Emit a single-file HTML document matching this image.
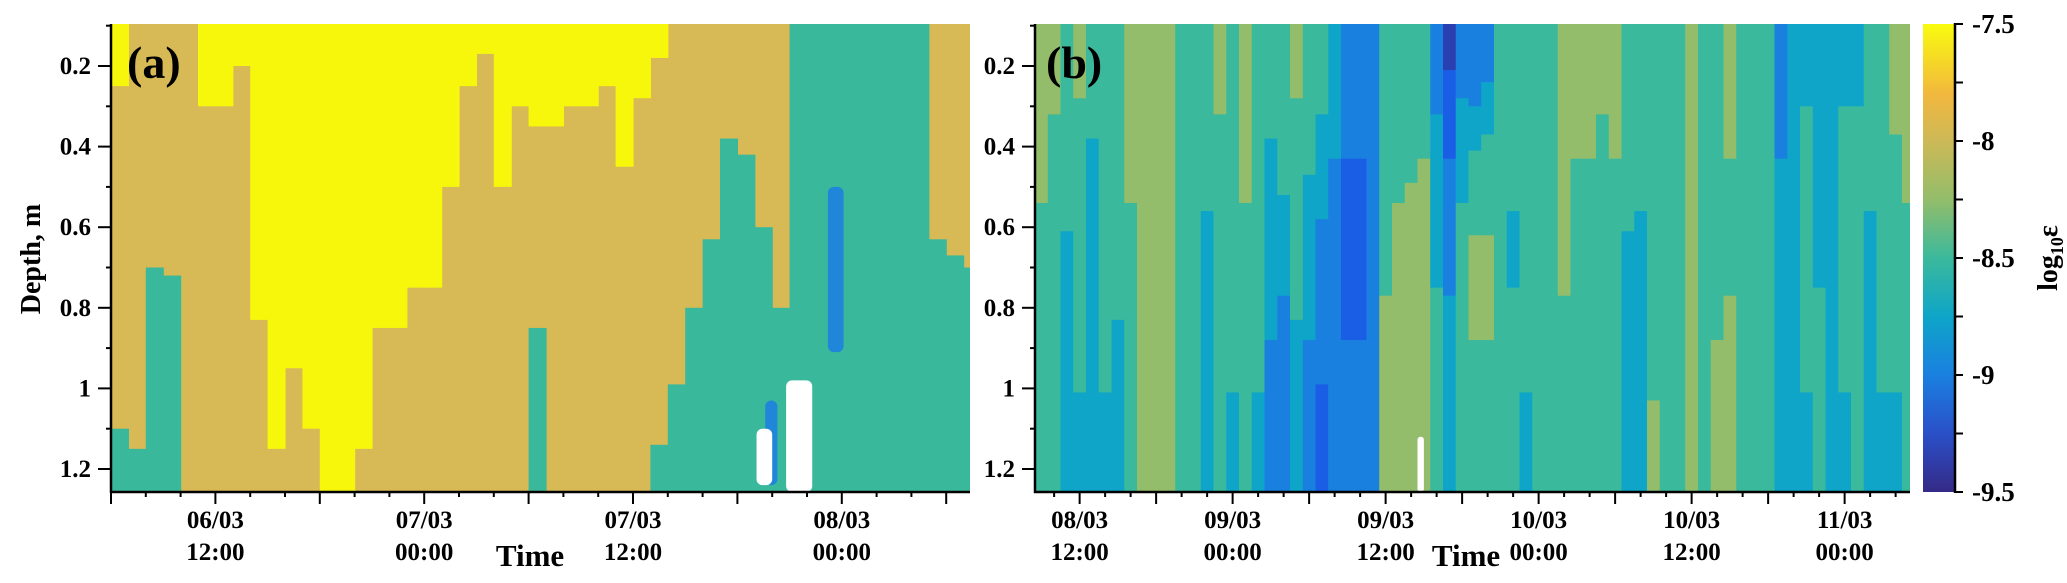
<!DOCTYPE html>
<html><head><meta charset="utf-8"><style>
html,body{margin:0;padding:0;background:#fff;}
svg{display:block;font-family:"Liberation Serif",serif;font-weight:bold;}
</style></head><body>
<svg id="fig" xmlns="http://www.w3.org/2000/svg" width="2067" height="583" viewBox="0 0 2067 583">
<defs id="defs"></defs>
<g id="panelA"></g>
<g id="panelB"></g>
<g id="cbar"></g>
</svg>
<script>
// ---------- Panel (a) data: one column per hour starting 06/03 06:00 ----------
const aYellowEnd = [0.25,0,0,0,0,0.3,0.3,0.2,0.83,1.15,0.95,1.1,1.26,1.26,1.15,0.85,0.85,0.75,0.75,0.5,0.25,0.17,0.5,0.3,0.35,0.35,0.3,0.3,0.25,0.45,0.28,0.18,0,0,0,0,0,0,0,0,0,0,0,0,0,0,0,0,0,0];
const aTealStart = [1.1,1.15,0.7,0.72,1.3,1.3,1.3,1.3,1.3,1.3,1.3,1.3,1.3,1.3,1.3,1.3,1.3,1.3,1.3,1.3,1.3,1.3,1.3,1.3,0.85,1.3,1.3,1.3,1.3,1.3,1.3,1.14,0.99,0.8,0.63,0.38,0.42,0.6,0.8,0,0,0,0,0,0,0,0,0.63,0.67,0.7];
const aPatchHour0 = [41.2,37.6,38.8,37.1];
const aPatchHour1 = [42.1,38.3,40.3,38.0];
const aPatchTop = [0.5,1.03,0.98,1.1];
const aPatchBottom = [0.91,1.24,1.26,1.24];
const aPatchKind = ["blue","blue","white","white"];
// ---------- Panel (b) data: log10(eps) per hour starting 08/03 08:30 ----------
const bTop = [-8.2,-8.3,-8.5,-8.3,-8.6,-8.5,-8.4,-8.2,-8.2,-8.2,-8.1,-8.5,-8.4,-8.6,-8.3,-8.6,-8.2,-8.5,-8.6,-8.4,-8.3,-8.5,-8.6,-8.8,-9.0,-9.0,-9.0,-8.6,-8.5,-8.6,-8.4,-8.9,-9.2,-8.9,-9.0,-8.9,-8.5,-8.6,-8.6,-8.5,-8.5,-8.2,-8.3,-8.2,-8.3,-8.2,-8.5,-8.6,-8.5,-8.5,-8.5,-8.3,-8.4,-8.5,-8.3,-8.5,-8.5,-8.6,-8.9,-8.8,-8.7,-8.8,-8.8,-8.7,-8.7,-8.6,-8.6,-8.2,-8.2];
const bMid = [-8.4,-8.5,-8.7,-8.6,-8.8,-8.6,-8.6,-8.4,-8.2,-8.2,-8.2,-8.5,-8.6,-8.7,-8.5,-8.6,-8.4,-8.6,-8.8,-8.8,-8.6,-8.8,-8.9,-8.9,-9.1,-9.1,-9.0,-8.4,-8.3,-8.2,-8.3,-8.7,-8.9,-8.6,-8.3,-8.3,-8.4,-8.7,-8.6,-8.6,-8.5,-8.3,-8.4,-8.5,-8.5,-8.5,-8.7,-8.7,-8.6,-8.5,-8.5,-8.3,-8.6,-8.4,-8.4,-8.6,-8.6,-8.6,-8.8,-8.7,-8.6,-8.7,-8.8,-8.6,-8.6,-8.7,-8.6,-8.6,-8.4];
const bBot = [-8.5,-8.6,-8.7,-8.7,-8.8,-8.7,-8.8,-8.6,-8.2,-8.1,-8.2,-8.6,-8.6,-8.8,-8.6,-8.7,-8.6,-8.7,-8.9,-9.0,-8.8,-8.9,-9.1,-9.0,-9.0,-9.0,-8.9,-8.2,-8.2,-8.1,-8.3,-8.6,-8.7,-8.6,-8.4,-8.4,-8.5,-8.6,-8.7,-8.6,-8.6,-8.5,-8.5,-8.6,-8.5,-8.5,-8.7,-8.7,-8.3,-8.4,-8.4,-8.2,-8.5,-8.3,-8.2,-8.5,-8.5,-8.5,-8.7,-8.7,-8.7,-8.6,-8.7,-8.7,-8.6,-8.8,-8.7,-8.7,-8.6];
const bWhiteHour = [30.0,30.5];
const bWhiteDepth = [1.12,1.26];
// ---------- axes data ----------
const yTickVals = [0.2,0.4,0.6,0.8,1,1.2];
const yTickLabels = ["0.2","0.4","0.6","0.8","1","1.2"];
const aXLabelHours = [6,18,30,42];
const aXLabels1 = ["06/03","07/03","07/03","08/03"];
const aXLabels2 = ["12:00","00:00","12:00","00:00"];
const bXLabelHours = [3.5,15.5,27.5,39.5,51.5,63.5];
const bXLabels1 = ["08/03","09/03","09/03","10/03","10/03","11/03"];
const bXLabels2 = ["12:00","00:00","12:00","00:00","12:00","00:00"];
const cbTickVals = [-7.5,-8,-8.5,-9,-9.5];
const cbTickLabels = ["-7.5","-8","-8.5","-9","-9.5"];

const NS="http://www.w3.org/2000/svg";
function mk(tag, attrs, parent){const e=document.createElementNS(NS,tag);for(const k in attrs)e.setAttribute(k,attrs[k]);parent.appendChild(e);return e;}
const TOP=24, BOT=492;
function yS(d){return 66+(d-0.2)*403;}
function clampY(y){return Math.max(TOP,Math.min(BOT,y));}
const aX0=111, aX1=970, aPxH=17.4;
function axS(h){return aX0+h*aPxH;}
const bX0=1035, bX1=1910, bPxH=12.75;
function bxS(h){return bX0+h*bPxH;}
const stopsV=[-7.5,-7.8,-8.0,-8.25,-8.5,-8.75,-9.0,-9.25,-9.5];
const stopsC=["#f9fb0e","#f2b83e","#cdb957","#93bd6a","#3bb99c","#0ea5c8","#1a80e0","#2a50c8","#352a87"];
function band(v){
  if(v>-8.0) return "#f0bb3c";
  if(v>-8.35) return "#93bd6a";
  if(v>-8.68) return "#3bb99c";
  if(v>-8.85) return "#0ea5c8";
  if(v>-9.05) return "#1a80e0";
  if(v>-9.2) return "#1a5ee6";
  return "#2a3fb0";
}
const defs=document.getElementById('defs');
const gA=document.getElementById('panelA'), gB=document.getElementById('panelB'), gC=document.getElementById('cbar');

const cpA=mk('clipPath',{id:'clipA'},defs); mk('rect',{x:aX0,y:TOP,width:aX1-aX0,height:BOT-TOP},cpA);
const cpB=mk('clipPath',{id:'clipB'},defs); mk('rect',{x:bX0,y:TOP,width:bX1-bX0,height:BOT-TOP},cpB);

const aData=mk('g',{'clip-path':'url(#clipA)'},gA);


const bgA=mk('rect',{x:aX0,y:TOP,width:aX1-aX0,height:BOT-TOP,fill:'#d7b955'},aData);


aYellowEnd.forEach((d,i)=>{
  if(d>0){const y1=clampY(yS(d));
    const r=mk('rect',{x:axS(i),y:TOP,width:aPxH+0.6,height:y1-TOP,fill:'#f7f70c'},aData);
    
    }
});
aTealStart.forEach((d,i)=>{
  if(d<1.26){const y0=clampY(yS(d));
    const r=mk('rect',{x:axS(i),y:y0,width:aPxH+0.6,height:BOT-y0,fill:'#3ab89c'},aData);
    
    }
});
aPatchKind.forEach((k,i)=>{
  const y0=clampY(yS(aPatchTop[i])), y1=clampY(yS(aPatchBottom[i]));
  const r=mk('rect',{x:axS(aPatchHour0[i]),y:y0,width:(aPatchHour1[i]-aPatchHour0[i])*aPxH,height:y1-y0,rx:6,fill:k==='white'?'#ffffff':'#1f86d9'},aData);
  
  
});

const bData=mk('g',{'clip-path':'url(#clipB)'},gB);


function profile(i,d){
  const ds=[0.2,0.65,1.1], vs=[bTop[i],bMid[i],bBot[i]];
  if(d<=ds[0]) return vs[0];
  if(d>=ds[2]) return vs[2];
  const k = d<ds[1]?0:1; const t=(d-ds[k])/(ds[k+1]-ds[k]);
  return vs[k]+(vs[k+1]-vs[k])*t;
}
bTop.forEach((v,i)=>{
  let runStart=0.09, runCol=band(profile(i,0.09));
  for(let d=0.09; d<=1.27; d+=0.01){
    const c=band(profile(i,d));
    if(c!==runCol || d>1.26){
      const y0=clampY(yS(runStart)), y1=clampY(yS(d));
      const r=mk('rect',{x:bxS(i),y:y0,width:bPxH+0.6,height:y1-y0+0.5,fill:runCol},bData);
      
      
      runStart=d; runCol=c;
    }
  }
});
{const y0=yS(bWhiteDepth[0]),y1=clampY(yS(bWhiteDepth[1]));
 const r=mk('rect',{x:bxS(bWhiteHour[0]),y:y0,width:(bWhiteHour[1]-bWhiteHour[0])*bPxH,height:y1-y0,rx:3,fill:'#fff'},bData);
 
 }

function axes(g,x0,x1,xS,nH,labH,l1,l2,yLabelsRightX){
  const ax=mk('g',{},g);
  
  
  mk('line',{x1:x0,y1:TOP,x2:x0,y2:BOT+1,stroke:'#000','stroke-width':2.5},ax);
  mk('line',{x1:x0-1,y1:BOT,x2:x1,y2:BOT,stroke:'#000','stroke-width':2.5},ax);
  for(let k=1;k<=12;k++){const d=k/10; const y=yS(d); if(y<TOP)continue;
    const major=(k%2===0); mk('line',{x1:x0,y1:y,x2:x0-(major?13:5),y2:y,stroke:'#000','stroke-width':2},ax);}
  yTickVals.forEach((d,i)=>{
    const t=mk('text',{x:yLabelsRightX,y:yS(d)+8,'text-anchor':'end','font-size':25},ax);
    t.textContent=yTickLabels[i];
    
    
  });
  for(let h=0;h<=nH;h+=0.5){ const x=xS(h); if(x<x0-0.5||x>x1) continue;
    const hh=h+ (x0===aX0?6:8.5); if(Math.abs(hh%2)>0.01) continue;
    const long=(hh%6===0); mk('line',{x1:x,y1:BOT,x2:x,y2:BOT+(long?12:5),stroke:'#000','stroke-width':2},ax);}
  labH.forEach((h,i)=>{
    const t1=mk('text',{x:xS(h),y:528,'text-anchor':'middle','font-size':25},ax); t1.textContent=l1[i];
    
    
    const t2=mk('text',{x:xS(h),y:560,'text-anchor':'middle','font-size':25},ax); t2.textContent=l2[i];
    
    
  });
}
axes(gA,aX0,aX1,axS,50,aXLabelHours,aXLabels1,aXLabels2,91);
axes(gB,bX0,bX1,bxS,69,bXLabelHours,bXLabels1,bXLabels2,1015);

function txt(g,x,y,s,size,name,extra){const t=mk('text',Object.assign({x:x,y:y,'font-size':size},extra||{}),g);t.textContent=s;
  
  return t;}
txt(gA,127,78,'(a)',46,'panel-a-label');
txt(gB,1046,78,'(b)',46,'panel-b-label');
txt(gA,530,566,'Time',31,'x-axis-title',{'text-anchor':'middle'});
txt(gB,1466,566,'Time',31,'x-axis-title',{'text-anchor':'middle'});
txt(gA,0,0,'Depth, m',28,'y-axis-title',{'text-anchor':'middle',transform:'translate(40,259) rotate(-90)'});

const cbX0=1923, cbX1=1955;
function cbY(v){return TOP+(-7.5-v)/2*(BOT-TOP);}
const lgc=mk('linearGradient',{id:'cbg',x1:0,y1:TOP,x2:0,y2:BOT,gradientUnits:'userSpaceOnUse'},defs);
stopsV.forEach((v,i)=>mk('stop',{offset:((cbY(v)-TOP)/(BOT-TOP)).toFixed(3),'stop-color':stopsC[i]},lgc));
const cbr=mk('rect',{x:cbX0,y:TOP,width:cbX1-cbX0,height:BOT-TOP,fill:'url(#cbg)'},gC);


mk('line',{x1:cbX1,y1:TOP-1,x2:cbX1,y2:BOT+1,stroke:'#000','stroke-width':2.5},gC);
for(let v=-7.5;v>=-9.5;v-=0.25){const y=cbY(v);mk('line',{x1:cbX1,y1:y,x2:cbX1+8,y2:y,stroke:'#000','stroke-width':2},gC);}
cbTickVals.forEach((v,i)=>{txt(gC,1972,cbY(v)+9,cbTickLabels[i],27,'colorbar-tick-label');});
const cl=mk('text',{x:0,y:0,'font-size':28,'text-anchor':'middle',transform:'translate(2057,258) rotate(-90)'},gC);


cl.innerHTML='log<tspan font-size="18" dy="6">10</tspan><tspan dy="-6">ε</tspan>';
</script>
</body></html>
